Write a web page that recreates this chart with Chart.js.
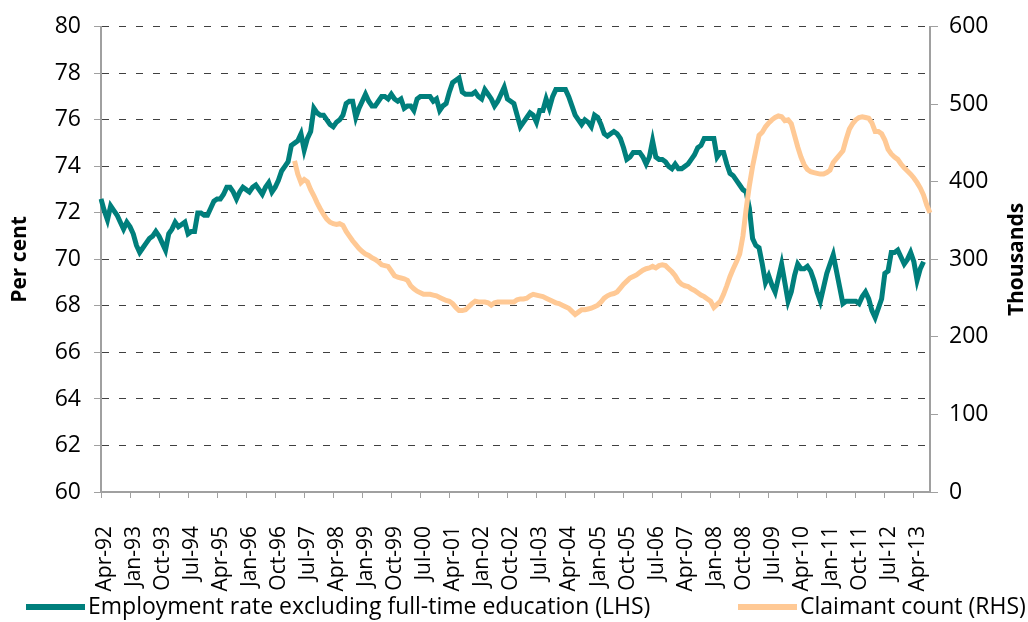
<!DOCTYPE html>
<html>
<head>
<meta charset="utf-8">
<script src="https://cdn.jsdelivr.net/npm/chart.js@4.4.0/dist/chart.umd.min.js"></script>
<style>
  html, body { margin: 0; padding: 0; background: #fff; }
  #wrap { width: 1028px; height: 622px; position: relative; }
</style>
</head>
<body>
<div id="wrap"><canvas id="chart" width="1028" height="622"></canvas></div>
<script>
// monthly categories Apr-92 .. Sep-13
const monthNames = ['Jan','Feb','Mar','Apr','May','Jun','Jul','Aug','Sep','Oct','Nov','Dec'];
const firstMonth = 3, firstYear = 1992, monthCount = 258;
const labelEvery = 9;

// Employment rate excluding full-time education (LHS), per cent, Apr-92 .. Jul-13
const employmentRate = [
  72.6, 72.1, 71.7, 72.3, 72.1, 71.9, 71.6, 71.3, 71.6, 71.4,
  71.1, 70.6, 70.3, 70.5, 70.7, 70.9, 71.0, 71.2, 71.0, 70.7,
  70.4, 71.1, 71.3, 71.6, 71.4, 71.5, 71.6, 71.1, 71.2, 71.2,
  72.0, 72.0, 71.9, 71.9, 72.2, 72.5, 72.6, 72.6, 72.8, 73.1,
  73.1, 72.9, 72.6, 72.9, 73.1, 73.0, 72.9, 73.1, 73.2, 73.0,
  72.8, 73.1, 73.3, 72.9, 73.1, 73.4, 73.8, 74.0, 74.2, 74.9,
  75.0, 75.1, 75.4, 74.7, 75.2, 75.5, 76.5, 76.3, 76.2, 76.2,
  76.0, 75.8, 75.7, 75.9, 76.0, 76.2, 76.7, 76.8, 76.8, 76.1,
  76.5, 76.8, 77.1, 76.8, 76.6, 76.6, 76.8, 77.0, 77.0, 76.9,
  77.1, 76.9, 76.8, 76.9, 76.5, 76.6, 76.6, 76.4, 76.9, 77.0,
  77.0, 77.0, 77.0, 76.8, 76.9, 76.4, 76.6, 76.7, 77.2, 77.6,
  77.7, 77.8, 77.2, 77.1, 77.1, 77.1, 77.2, 77.0, 76.9, 77.3,
  77.1, 76.9, 76.6, 76.8, 77.1, 77.4, 76.9, 76.8, 76.7, 76.2,
  75.7, 75.9, 76.1, 76.3, 76.2, 75.9, 76.4, 76.4, 76.9, 76.5,
  77.0, 77.3, 77.3, 77.3, 77.3, 77.0, 76.6, 76.2, 76.0, 75.8,
  76.0, 75.9, 75.7, 76.2, 76.1, 75.8, 75.4, 75.3, 75.4, 75.5,
  75.4, 75.2, 74.8, 74.3, 74.4, 74.6, 74.6, 74.6, 74.4, 74.1,
  74.4, 75.1, 74.4, 74.3, 74.3, 74.2, 74.0, 73.9, 74.1, 73.9,
  73.9, 74.0, 74.1, 74.3, 74.5, 74.8, 74.9, 75.2, 75.2, 75.2,
  75.2, 74.4, 74.6, 74.6, 74.1, 73.7, 73.6, 73.4, 73.2, 73.0,
  72.9, 72.2, 70.9, 70.6, 70.5, 69.8, 69.0, 69.3, 68.9, 68.6,
  69.2, 69.8, 69.0, 68.2, 68.6, 69.3, 69.8, 69.6, 69.6, 69.7,
  69.5, 69.1, 68.6, 68.2, 68.8, 69.4, 69.8, 70.2, 69.5, 68.8,
  68.1, 68.2, 68.2, 68.2, 68.2, 68.1, 68.4, 68.6, 68.3, 67.8,
  67.5, 67.9, 68.3, 69.4, 69.5, 70.3, 70.3, 70.4, 70.1, 69.8,
  70.0, 70.3, 69.9, 69.1, 69.6, 69.9
];

// Claimant count (RHS), thousands, Apr-97 .. Sep-13
const claimantStart = 60;
const claimantCount = [
  427, 410, 399, 403, 400, 390, 382, 373, 365, 358,
  352, 348, 346, 345, 346, 344, 336, 330, 324, 319,
  314, 310, 307, 305, 302, 300, 297, 293, 292, 291,
  285, 279, 277, 276, 275, 273, 266, 262, 259, 257,
  255, 255, 255, 254, 253, 251, 249, 247, 246, 243,
  238, 234, 234, 235, 239, 243, 246, 245, 245, 245,
  244, 241, 244, 245, 245, 245, 245, 245, 245, 248,
  249, 249, 250, 253, 255, 254, 253, 252, 250, 248,
  246, 244, 243, 241, 239, 237, 233, 229, 232, 235,
  235, 236, 237, 239, 241, 245, 250, 253, 255, 256,
  258, 263, 268, 272, 276, 278, 280, 283, 286, 288,
  289, 291, 289, 292, 293, 292, 288, 284, 279, 272,
  268, 266, 265, 262, 260, 257, 254, 252, 249, 246,
  238, 242, 246, 255, 266, 278, 288, 297, 307, 330,
  365, 395, 420, 440, 460, 464, 471, 476, 480, 483,
  485, 484, 479, 480, 475, 460, 445, 432, 422, 416,
  413, 412, 411, 410, 410, 412, 415, 425, 430, 435,
  440, 455, 468, 475, 480, 483, 484, 483, 482, 476,
  465, 465, 462, 454, 442, 436, 432, 429, 423, 418,
  414, 410, 405, 399, 392, 383, 370, 360
];

const leftTicks = { min: 60, max: 80, step: 2 };
const rightTicks = { min: 0, max: 600, step: 100 };
const leftTitle = 'Per cent';
const rightTitle = 'Thousands';
const seriesNames = ['Employment rate excluding full-time education (LHS)', 'Claimant count (RHS)'];

const tealColor = '#007f7c';
const peachColor = '#ffc995';
const fontFamily = '"Open Sans", "Noto Sans", sans-serif';

const labels = [];
for (let i = 0; i < monthCount; i++) {
  const m = (firstMonth + i) % 12;
  const y = firstYear + Math.floor((firstMonth + i) / 12);
  labels.push(monthNames[m] + '-' + String(y % 100).padStart(2, '0'));
}

const claimantData = new Array(claimantStart).fill(null).concat(claimantCount);

// axis titles and legend, drawn to match the spreadsheet layout
const extras = {
  id: 'extras',
  afterDraw(chart) {
    const ctx = chart.ctx;
    const area = chart.chartArea;
    const midY = (area.top + area.bottom) / 2;
    ctx.save();
    ctx.fillStyle = '#000';
    ctx.font = 'bold 21px ' + fontFamily;
    ctx.textAlign = 'center';
    ctx.textBaseline = 'middle';
    [[20, leftTitle], [1017, rightTitle]].forEach(([x, t]) => {
      ctx.save();
      ctx.translate(x, midY);
      ctx.rotate(-Math.PI / 2);
      ctx.fillText(t, 0, 0);
      ctx.restore();
    });

    ctx.font = '23px ' + fontFamily;
    ctx.textAlign = 'left';
    const legendY = 607;
    [[26, tealColor, seriesNames[0]], [738, peachColor, seriesNames[1]]].forEach(([x, c, t]) => {
      ctx.fillStyle = c;
      ctx.fillRect(x, legendY - 3, 59, 6);
      ctx.fillStyle = '#000';
      ctx.fillText(t, x + 62, legendY);
    });
    ctx.restore();
  }
};

new Chart(document.getElementById('chart'), {
  type: 'line',
  data: {
    labels: labels,
    datasets: [
      {
        label: seriesNames[0],
        data: employmentRate,
        yAxisID: 'y',
        borderColor: tealColor,
        backgroundColor: tealColor,
        borderWidth: 5,
        pointRadius: 0,
        tension: 0,
        order: 2
      },
      {
        label: seriesNames[1],
        data: claimantData,
        yAxisID: 'y1',
        borderColor: peachColor,
        backgroundColor: peachColor,
        borderWidth: 5,
        pointRadius: 0,
        tension: 0,
        order: 1
      }
    ]
  },
  options: {
    responsive: false,
    animation: false,
    layout: { padding: { top: 25, left: 0, right: 0, bottom: 0 } },
    plugins: {
      legend: { display: false },
      tooltip: { enabled: false }
    },
    scales: {
      x: {
        offset: false,
        grid: { drawOnChartArea: false, drawTicks: true, tickLength: 6, color: '#a0a0a0', lineWidth: 1 },
        border: { color: '#a0a0a0', width: 2 },
        ticks: {
          autoSkip: false,
          maxRotation: 90,
          minRotation: 90,
          padding: 28,
          labelOffset: 4,
          color: '#000',
          font: { family: fontFamily, size: 21 },
          callback: function (value, index) {
            return index % labelEvery === 0 ? labels[index] : null;
          }
        },
        afterFit: s => { s.height = 130; }
      },
      y: {
        position: 'left',
        min: leftTicks.min,
        max: leftTicks.max,
        grid: { color: '#404040', lineWidth: 1, tickLength: 7, tickColor: '#a0a0a0', tickBorderDash: [] },
        border: { color: '#a0a0a0', width: 2, dash: [7, 10] },
        ticks: {
          stepSize: leftTicks.step,
          padding: 13,
          color: '#000',
          font: { family: fontFamily, size: 23 }
        },
        afterFit: s => { s.width = 101; }
      },
      y1: {
        position: 'right',
        min: rightTicks.min,
        max: rightTicks.max,
        grid: { drawOnChartArea: false, tickLength: 8, color: '#a0a0a0' },
        border: { color: '#a0a0a0', width: 2 },
        ticks: {
          stepSize: rightTicks.step,
          padding: 11,
          color: '#000',
          font: { family: fontFamily, size: 23 }
        },
        afterFit: s => { s.width = 98; }
      }
    }
  },
  plugins: [extras]
});
</script>
</body>
</html>
